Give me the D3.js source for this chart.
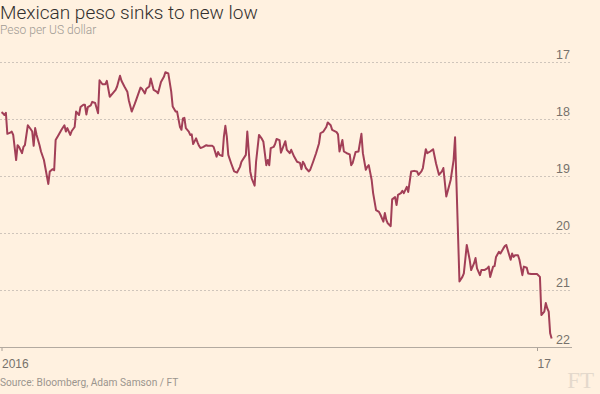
<!DOCTYPE html>
<html>
<head>
<meta charset="utf-8">
<script src="https://cdn.jsdelivr.net/npm/d3@7"></script>
<style>
	body { margin: 0; background: #fff1e0; }
	svg { display: block; font-family: Roboto, "Noto Sans", sans-serif; }
</style>
</head>
<body>
<script>
// chart data
var startDate = "2016-01-01";

// days after startDate for each reading
var dayOffsets = [0,1,2,3,4,6,7,8,10,11,12,14,15,16,18,20,21,22,23,24,26,27,29,30,32,33,35,36,37,39,
	41,43,44,45,47,48,50,51,53,54,56,57,58,59,61,62,64,66,67,69,71,72,74,76,78,79,81,82,84,86,
	87,89,91,92,95,96,98,99,101,102,104,106,107,109,111,112,114,116,117,119,120,122,123,124,125,126,128,129,130,131,
	133,134,135,136,138,140,141,144,145,147,148,149,151,152,153,154,155,157,159,161,163,164,167,168,170,171,173,174,176,178,
	179,181,182,183,184,186,187,188,190,191,194,195,197,198,200,202,204,205,206,207,208,210,211,213,215,217,218,220,222,223,
	225,226,229,230,231,233,234,236,238,239,240,242,244,246,247,249,250,251,253,254,256,258,259,261,262,263,264,266,267,269,
	270,271,273,274,275,277,278,280,282,284,285,287,288,290,291,293,295,297,299,301,302,304,307,309,310,313,315,316,318,320,
	321,323,324,325,327,328,330,332,333,334,336,337,338,340,341,343,344,345,346,348,349,350,351,353,354,356,357,359,360,362,
	364,366,368,369,371,372,373,374,375,376];

// pesos per US dollar
var pesoPerDollar = [17.88,17.90,17.93,17.89,18.26,18.24,18.22,18.28,18.72,18.46,18.49,18.60,18.49,18.46,18.11,18.18,18.22,18.47,18.16,18.28,
	18.46,18.57,18.72,18.86,19.14,18.92,18.88,18.90,18.37,18.28,18.19,18.11,18.22,18.16,18.28,18.21,18.14,17.87,17.93,17.79,
	17.75,17.75,17.92,17.79,17.76,17.70,17.72,17.90,17.32,17.39,17.39,17.33,17.61,17.55,17.49,17.43,17.24,17.33,17.43,17.52,
	17.67,17.87,17.74,17.67,17.45,17.47,17.55,17.47,17.43,17.29,17.49,17.52,17.55,17.35,17.26,17.18,17.20,17.52,17.78,17.87,
	17.87,18.14,18.19,17.99,17.98,18.16,18.22,18.28,18.27,18.44,18.34,18.41,18.47,18.51,18.49,18.46,18.47,18.47,18.49,18.66,
	18.58,18.63,18.65,18.31,18.12,18.31,18.63,18.78,18.92,18.94,18.84,18.75,18.63,18.22,18.92,19.04,19.17,18.75,18.28,18.35,
	18.40,18.81,18.72,18.81,18.51,18.49,18.44,18.35,18.37,18.59,18.39,18.54,18.60,18.54,18.66,18.75,18.77,18.88,18.75,18.79,
	18.86,18.92,18.89,18.75,18.60,18.43,18.25,18.22,18.14,18.06,18.11,18.19,18.23,18.27,18.57,18.37,18.57,18.60,18.62,18.81,
	18.77,18.58,18.57,18.26,18.60,18.89,18.84,18.81,19.07,19.30,19.60,19.63,19.68,19.80,19.65,19.77,19.83,19.88,19.41,19.37,
	19.51,19.33,19.30,19.26,19.30,19.19,19.28,18.92,18.91,18.92,18.98,18.92,18.86,18.53,18.60,18.57,18.53,18.78,18.98,18.92,
	18.86,19.36,19.07,18.72,18.32,20.85,20.77,20.71,20.21,20.47,20.65,20.53,20.44,20.62,20.74,20.65,20.65,20.62,20.59,20.77,
	20.59,20.58,20.42,20.33,20.36,20.27,20.23,20.21,20.30,20.47,20.36,20.42,20.39,20.39,20.47,20.74,20.59,20.61,20.71,20.72,
	20.72,20.72,20.77,21.44,21.38,21.23,21.32,21.38,21.76,21.85];

// axis ticks
var yTicks = [17, 18, 19, 20, 21, 22];
var xTicks = ["2016-01-01", "2017-01-01"];
var xTickLabels = ["2016", "17"];

window.onload = function(){
	var w = 600, h = 394;
	var plotRight = 572;

	var parseDate = d3.timeParse("%Y-%m-%d");
	var start = parseDate(startDate);

	// build the series from the arrays
	var series = dayOffsets.map(function(d, i){
		return { date: d3.timeDay.offset(start, d), value: pesoPerDollar[i] };
	});

	var svg = d3.select("body")
		.append("svg")
		.attr("width", w)
		.attr("height", h)
		.attr("class", "container");

	svg.append("rect")
		.attr("width", w)
		.attr("height", h)
		.attr("fill", "#fff1e0");

	// scales
	var x = d3.scaleTime()
		.domain([parseDate(xTicks[0]), parseDate(xTicks[1])])
		.range([1.5, 537]);

	// inverted: weaker peso goes down
	var y = d3.scaleLinear()
		.domain([17, 22])
		.range([62, 347]);

	// gridlines + labels on the right
	var yAxis = svg.append("g")
		.attr("class", "y-axis")
		.call(d3.axisRight(y)
			.tickValues(yTicks)
			.tickSize(plotRight)
			.tickFormat(d3.format("d")));

	yAxis.select(".domain").remove();
	yAxis.selectAll(".tick line")
		.attr("stroke", "#cfc5bb")
		.attr("stroke-dasharray", "2,2");
	yAxis.selectAll(".tick text")
		.attr("x", 570)
		.attr("dy", -4)
		.attr("text-anchor", "end")
		.attr("fill", "#76716c")
		.style("font-size", "12.5px");

	// x axis
	var xAxis = svg.append("g")
		.attr("class", "x-axis")
		.attr("transform", "translate(0," + y(22) + ")")
		.call(d3.axisBottom(x)
			.tickValues(xTicks.map(parseDate))
			.tickSize(4)
			.tickPadding(8)
			.tickFormat(function(d, i){ return xTickLabels[i]; }));

	xAxis.select(".domain").remove();
	xAxis.selectAll(".tick line").attr("stroke", "#a89f96");
	xAxis.selectAll(".tick text")
		.attr("text-anchor", "start")
		.attr("x", 0)
		.attr("fill", "#76716c")
		.style("font-size", "12px");

	xAxis.append("line")
		.attr("x1", 0)
		.attr("x2", plotRight)
		.attr("y1", 0.5)
		.attr("y2", 0.5)
		.attr("stroke", "#b3aaa0");

	// the peso line
	var line = d3.line()
		.x(function(d){ return x(d.date); })
		.y(function(d){ return y(d.value); });

	svg.append("path")
		.datum(series)
		.attr("class", "peso")
		.attr("d", line)
		.attr("fill", "none")
		.attr("stroke", "#a23f57")
		.attr("stroke-width", 2)
		.attr("stroke-linejoin", "round");

	// titles
	svg.append("text")
		.attr("x", 0)
		.attr("y", 19)
		.attr("fill", "#33302e")
		.style("font-size", "19px")
		.style("font-weight", 300)
		.text("Mexican peso sinks to new low");

	svg.append("text")
		.attr("x", 0)
		.attr("y", 33.5)
		.attr("fill", "#a09a93")
		.style("font-size", "12px")
		.style("font-weight", 300)
		.text("Peso per US dollar");

	// source + logo
	svg.append("text")
		.attr("x", 0)
		.attr("y", 386)
		.attr("fill", "#9b958e")
		.style("font-size", "10.2px")
		.text("Source: Bloomberg, Adam Samson / FT");

	svg.append("text")
		.attr("x", 594)
		.attr("y", 388)
		.attr("text-anchor", "end")
		.attr("fill", "#e4d9cc")
		.style("font-family", "'Liberation Serif', serif")
		.style("font-size", "23px")
		.text("FT");
};
</script>
</body>
</html>
